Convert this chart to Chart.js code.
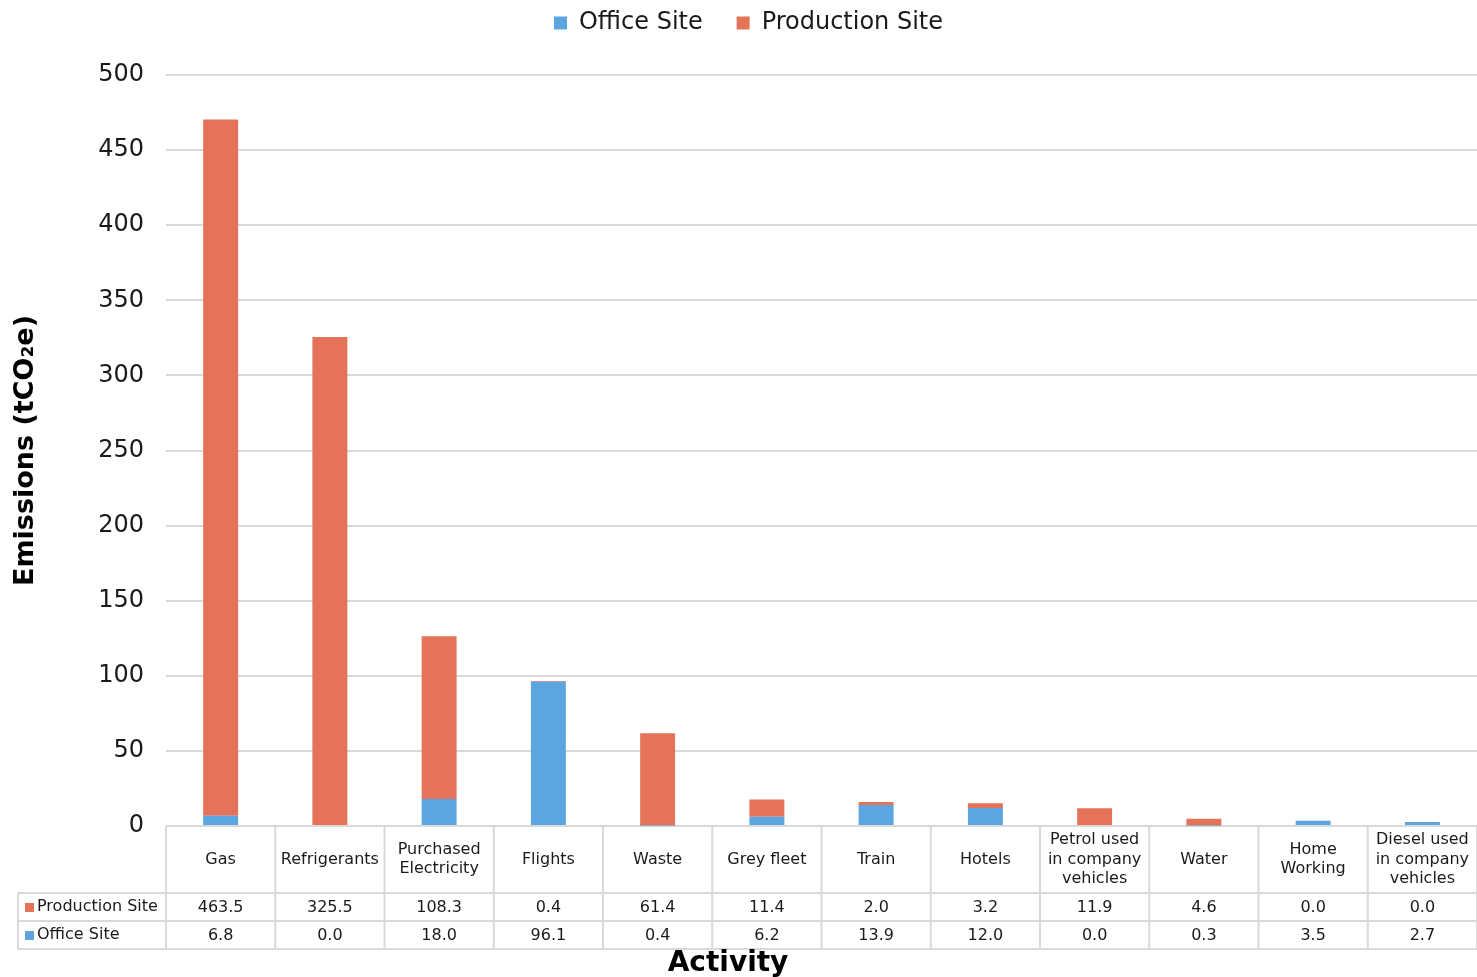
<!doctype html>
<html lang="en">
<head>
<meta charset="utf-8">
<title>Emissions by Activity</title>
<style>
  html, body { margin: 0; padding: 0; background: #fff; }
  #wrap { width: 1477px; height: 977px; }
</style>
</head>
<body>
<div id="wrap"><canvas id="myChart" width="1477" height="977"></canvas></div>

<script src="https://cdn.jsdelivr.net/npm/chart.js"></script>
<script>
  const activities = [
    ['Gas'], ['Refrigerants'], ['Purchased', 'Electricity'], ['Flights'], ['Waste'],
    ['Grey fleet'], ['Train'], ['Hotels'], ['Petrol used', 'in company', 'vehicles'],
    ['Water'], ['Home', 'Working'], ['Diesel used', 'in company', 'vehicles']
  ];
  const officeSite = [6.8, 0.0, 18.0, 96.1, 0.4, 6.2, 13.9, 12.0, 0.0, 0.3, 3.5, 2.7];
  const productionSite = [463.5, 325.5, 108.3, 0.4, 61.4, 11.4, 2.0, 3.2, 11.9, 4.6, 0.0, 0.0];
  const yTicks = [0, 50, 100, 150, 200, 250, 300, 350, 400, 450, 500];

  const blue = '#5ba5e1';
  const orange = '#e5735a';
  const lineGrey = '#d9d9d9';
  const font = 'DejaVu Sans, Verdana, sans-serif';

  // extra room under the legend before the plot starts, and nudge it right a bit
  const legendGap = {
    id: 'legendGap',
    afterInit(chart) {
      const fit = chart.legend.fit;
      chart.legend.fit = function () {
        fit.call(this);
        this.height += 30;
      };
    },
    afterLayout(chart) {
      chart.legend.left += 20;
    }
  };

  // data table under the plot, columns follow the x scale
  const dataTable = {
    id: 'dataTable',
    afterDraw(chart) {
      const ctx = chart.ctx;
      const xs = chart.scales.x;
      const area = chart.chartArea;
      const n = activities.length;
      const colW = (xs.right - xs.left) / n;
      const top = area.bottom;
      const row1 = top + 67, row2 = row1 + 28, row3 = row2 + 28;
      const tableLeft = 18;

      ctx.save();
      ctx.strokeStyle = lineGrey;
      ctx.lineWidth = 2;
      ctx.beginPath();
      for (let i = 0; i <= n; i++) {
        const x = xs.left + i * colW;
        ctx.moveTo(x, top); ctx.lineTo(x, row3);
      }
      ctx.moveTo(tableLeft, row1); ctx.lineTo(tableLeft, row3);
      [row1, row2, row3].forEach(y => { ctx.moveTo(tableLeft, y); ctx.lineTo(xs.right, y); });
      ctx.stroke();

      ctx.fillStyle = '#1a1a1a';
      ctx.font = '16px ' + font;
      ctx.textAlign = 'center';
      ctx.textBaseline = 'middle';
      const lh = 19.5;
      activities.forEach((lines, i) => {
        const cx = xs.getPixelForValue(i);
        const mid = (top + row1) / 2;
        const start = mid - (lines.length - 1) * lh / 2;
        lines.forEach((t, k) => ctx.fillText(t, cx, start + k * lh));
        ctx.fillText(productionSite[i].toFixed(1), cx, (row1 + row2) / 2 + 1);
        ctx.fillText(officeSite[i].toFixed(1), cx, (row2 + row3) / 2 + 1);
      });

      ctx.textAlign = 'left';
      [['Production Site', orange, (row1 + row2) / 2], ['Office Site', blue, (row2 + row3) / 2]]
        .forEach(([name, col, y]) => {
          ctx.fillStyle = col;
          ctx.fillRect(25, y - 4, 9, 9);
          ctx.fillStyle = '#1a1a1a';
          ctx.fillText(name, 37, y);
        });

      ctx.fillStyle = '#000';
      ctx.font = 'bold 28px ' + font;
      ctx.textAlign = 'center';
      ctx.fillText('Activity', 728, 964);
      ctx.restore();
    }
  };

  const ctx = document.getElementById('myChart');
  const myChart = new Chart(ctx, {
    type: 'bar',
    data: {
      labels: activities.map(a => a.join(' ')),
      datasets: [
        { label: 'Office Site', data: officeSite, backgroundColor: blue },
        { label: 'Production Site', data: productionSite, backgroundColor: orange }
      ]
    },
    options: {
      responsive: false,
      animation: false,
      layout: { padding: { top: 0, left: 0, right: 0, bottom: 84 } },
      datasets: { bar: { categoryPercentage: 1, barPercentage: 0.32 } },
      plugins: {
        legend: {
          position: 'top',
          labels: {
            font: { family: font, size: 24 },
            color: '#1a1a1a',
            boxWidth: 13,
            boxHeight: 13,
            padding: 11,
            generateLabels(chart) {
              const items = Chart.defaults.plugins.legend.labels.generateLabels(chart);
              items[0].text += '   ';
              return items;
            }
          }
        },
        tooltip: { enabled: false }
      },
      scales: {
        x: {
          stacked: true,
          ticks: { display: false },
          grid: { display: false },
          border: { display: false },
          afterFit: s => { s.height = 67; }
        },
        y: {
          stacked: true,
          min: 0,
          max: 500,
          afterBuildTicks: s => { s.ticks = yTicks.map(v => ({ value: v })); },
          afterFit: s => { s.width = 166; },
          ticks: {
            font: { family: font, size: 24 },
            color: '#1a1a1a',
            padding: 22
          },
          grid: { color: lineGrey, lineWidth: 2, drawTicks: false },
          border: { display: false },
          title: {
            display: true,
            text: 'Emissions (tCO₂e)',
            font: { family: font, size: 27, weight: 'bold' },
            color: '#000',
            padding: { top: 10, bottom: 0 }
          }
        }
      }
    },
    plugins: [legendGap, dataTable]
  });
</script>
</body>
</html>
